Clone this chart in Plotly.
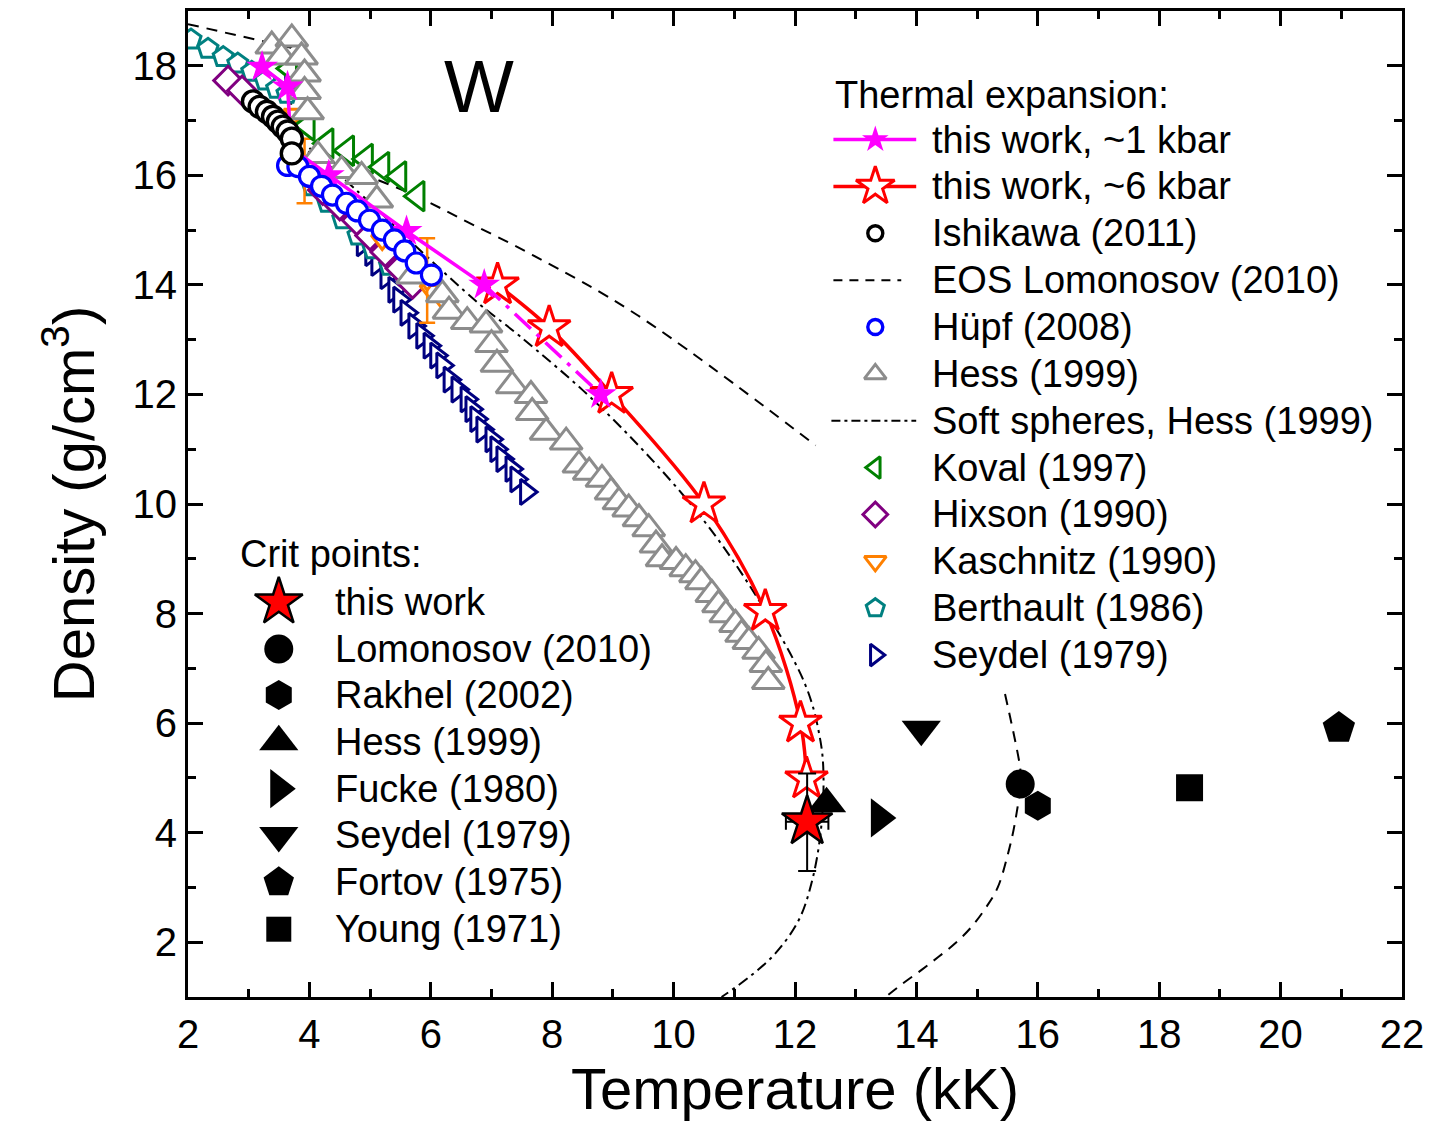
import plotly.graph_objects as go

FONT = "Arial, Liberation Sans, sans-serif"

# ---------------- data: temperature (kK) and density (g/cm^3) ----------------
# this work, thermal expansion at ~1 kbar
kbar1_T = [3.22, 3.64, 4.32, 5.60, 6.88, 8.80]
kbar1_rho = [17.98, 17.62, 16.00, 14.98, 14.00, 12.00]
kbar1_path_T = [3.22, 3.64, 3.70, 4.32, 5.60, 6.88]          # includes melting drop
kbar1_path_rho = [17.98, 17.62, 16.50, 16.00, 14.98, 14.00]
kbar1_ext_T = [6.88, 8.80]
kbar1_ext_rho = [14.00, 12.00]

# this work, thermal expansion at ~6 kbar
kbar6_T = [7.10, 7.95, 8.98, 10.50, 11.51, 12.09, 12.19]
kbar6_rho = [14.00, 13.22, 12.00, 10.00, 8.04, 6.00, 4.98]

# Ishikawa (2011)
ishikawa_T = [3.07, 3.18, 3.30, 3.40, 3.48, 3.56, 3.64, 3.71, 3.71]
ishikawa_rho = [17.35, 17.25, 17.16, 17.07, 16.98, 16.89, 16.80, 16.67, 16.40]

# EOS Lomonosov (2010): solid branch with melting drop, liquid branch, binodal near CP
eos_solid_T = [2.00, 3.70, 3.70]
eos_solid_rho = [18.76, 18.33, 16.60]
eos_liquid_T = [3.70, 4.00, 5.70, 6.60, 7.67, 9.40, 12.34]
eos_liquid_rho = [16.60, 16.42, 15.65, 15.15, 14.55, 13.45, 11.07]
eos_binodal_T = [15.46, 15.71, 15.72, 15.62, 15.51, 15.34, 15.15, 14.90, 14.64, 14.36, 14.08, 13.78, 13.49]
eos_binodal_rho = [6.53, 5.18, 4.95, 4.16, 3.62, 3.00, 2.64, 2.27, 1.98, 1.73, 1.49, 1.25, 1.00]

# Hüpf (2008)
hupf_T = [3.64, 3.81, 4.00, 4.20, 4.38, 4.61, 4.79, 4.99, 5.20, 5.40, 5.57, 5.76, 6.01]
hupf_rho = [16.18, 16.16, 15.98, 15.80, 15.64, 15.49, 15.35, 15.18, 15.00, 14.82, 14.62, 14.40, 14.18]

# Hess (1999)
hess_T = [3.38, 3.71, 3.54, 3.87, 3.92, 3.92, 3.97,
          4.14, 4.53, 4.86, 5.11, 5.70, 6.19, 6.30, 6.60, 6.91, 7.00, 7.09, 7.34, 7.65, 7.67,
          7.90, 8.23, 8.44, 8.61, 8.82, 8.97, 9.10, 9.26, 9.43, 9.59, 9.71, 9.81, 10.04, 10.20,
          10.36, 10.46, 10.63, 10.74, 10.86, 11.02, 11.12, 11.24, 11.40, 11.52, 11.56]
hess_rho = [18.36, 18.49, 18.16, 18.16, 17.85, 17.53, 17.16,
            16.36, 16.09, 15.98, 15.55, 14.16, 13.82, 13.52, 13.33, 13.27, 12.91, 12.55, 12.16, 11.98, 11.67,
            11.31, 11.13, 10.71, 10.58, 10.45, 10.22, 10.04, 9.91, 9.73, 9.55, 9.25, 9.00, 8.95, 8.82,
            8.71, 8.58, 8.35, 8.16, 7.98, 7.80, 7.62, 7.49, 7.31, 7.07, 6.76]

# Soft spheres, Hess (1999)
soft_T = [4.00, 5.00, 5.70, 6.80, 7.46, 8.77, 10.25, 11.24, 12.17, 12.42, 12.47, 12.42, 12.27, 12.06, 11.68, 11.24, 10.79]
soft_rho = [16.50, 15.50, 14.76, 13.65, 13.07, 11.80, 10.04, 8.53, 6.70, 5.67, 5.00, 3.98, 3.07, 2.40, 1.80, 1.36, 1.00]

# Koval (1997)
koval_T = [3.68, 3.97, 4.28, 4.62, 4.93, 5.20, 5.48, 5.78]
koval_rho = [17.95, 16.91, 16.58, 16.45, 16.30, 16.15, 15.98, 15.62]

# Hixson (1990)
hixson_T = [2.66, 2.89, 4.22, 4.50, 4.78, 5.00, 5.25, 5.50, 5.70]
hixson_rho = [17.73, 17.55, 15.73, 15.45, 15.18, 14.90, 14.60, 14.30, 14.02]

# Kaschnitz (1990)
kasch_T = [3.76, 5.20, 6.00, 6.25]
kasch_rho = [17.12, 14.82, 13.90, 13.65]
kasch_err_T = [3.92, 5.94]
kasch_err_rho = [16.08, 14.08]
kasch_err = [0.59, 0.77]

# Berthault (1986)
berth_T = [2.05, 2.33, 2.58, 2.82, 3.05, 3.27, 3.46, 3.63, 4.05, 4.30, 4.55, 4.80, 5.05, 5.32]
berth_rho = [18.48, 18.31, 18.16, 18.04, 17.89, 17.73, 17.58, 17.49, 15.80, 15.50, 15.20, 14.90, 14.65, 14.35]

# Seydel (1979)
seydel_T = [3.70, 4.88, 5.02, 5.12, 5.27, 5.40, 5.48, 5.60, 5.73, 5.86, 5.98, 6.09, 6.19, 6.31,
            6.44, 6.59, 6.67, 6.75, 6.85, 7.00, 7.08, 7.18, 7.33, 7.41, 7.57]
seydel_rho = [17.72, 14.76, 14.58, 14.40, 14.16, 13.91, 13.73, 13.49, 13.25, 13.07, 12.89, 12.71,
              12.53, 12.27, 12.09, 11.91, 11.73, 11.55, 11.36, 11.18, 11.00, 10.82, 10.64, 10.45, 10.22]

# critical points
cp_names = ["this work", "Lomonosov (2010)", "Rakhel (2002)", "Hess (1999)",
            "Fucke (1980)", "Seydel (1979)", "Fortov (1975)", "Young (1971)"]
cp_T = [12.20, 15.71, 16.00, 12.52, 13.39, 14.08, 20.96, 18.50]
cp_rho = [4.20, 4.89, 4.49, 4.53, 4.27, 5.89, 5.91, 4.82]
cp_err_T = 0.35
cp_err_rho_plus = 0.88
cp_err_rho_minus = 0.90

# ---------------- styling ----------------
MAGENTA, RED, BLUE, GRAY = "#FF00FF", "#FF0000", "#0000FF", "#8C8C8C"
GREEN, PURPLE, ORANGE, TEAL, NAVY = "#008000", "#800080", "#FF8000", "#008080", "#000080"
DASH = "11px,8px"
DASHDOT = "11px,5px,3px,5px"


def open_marker(symbol, color, size, lw=3):
    return dict(symbol=symbol, size=size, color="white", line=dict(color=color, width=lw))


fig = go.Figure()


def data_trace(x, y, **kw):
    fig.add_trace(go.Scatter(x=x, y=y, showlegend=False, hoverinfo="skip", cliponaxis=True, **kw))


# model curves
data_trace(eos_solid_T, eos_solid_rho, mode="lines", line=dict(color="black", width=2, dash=DASH))
data_trace(eos_liquid_T, eos_liquid_rho, mode="lines",
           line=dict(color="black", width=2, dash=DASH, shape="spline"))
data_trace(eos_binodal_T, eos_binodal_rho, mode="lines",
           line=dict(color="black", width=2, dash=DASH, shape="spline"))
data_trace(soft_T, soft_rho, mode="lines",
           line=dict(color="black", width=2, dash=DASHDOT, shape="spline"))

# experimental data sets
data_trace(seydel_T, seydel_rho, mode="markers", marker=open_marker("triangle-right", NAVY, 22))
data_trace(berth_T, berth_rho, mode="markers", marker=open_marker("pentagon", TEAL, 21))
data_trace(hixson_T, hixson_rho, mode="markers", marker=open_marker("diamond", PURPLE, 22))
data_trace(kasch_T, kasch_rho, mode="markers", marker=open_marker("triangle-down", ORANGE, 19))
data_trace(kasch_err_T, kasch_err_rho, mode="markers", marker=open_marker("triangle-down", ORANGE, 19),
           error_y=dict(type="data", array=kasch_err, color=ORANGE, thickness=2.5, width=8))
data_trace(koval_T, koval_rho, mode="markers", marker=open_marker("triangle-left", GREEN, 26))
data_trace(hess_T, hess_rho, mode="markers", marker=open_marker("triangle-up", GRAY, 28))

# this work
data_trace(kbar6_T, kbar6_rho, mode="lines+markers",
           line=dict(color=RED, width=3.5, shape="spline"),
           marker=open_marker("star", RED, 32, 3))
data_trace(kbar1_ext_T, kbar1_ext_rho, mode="lines",
           line=dict(color=MAGENTA, width=3.5, dash="22px,8px,4px,8px"))
data_trace(kbar1_path_T, kbar1_path_rho, mode="lines", line=dict(color=MAGENTA, width=3.5))
data_trace(kbar1_T, kbar1_rho, mode="markers",
           marker=dict(symbol="star", size=24, color=MAGENTA, line=dict(width=0)))

data_trace(hupf_T, hupf_rho, mode="markers", marker=open_marker("circle", BLUE, 20, 3.2))
data_trace(ishikawa_T, ishikawa_rho, mode="markers", marker=open_marker("circle", "black", 21, 3.4))

# critical points
cp_symbols = ["star", "circle", "hexagon", "triangle-up", "triangle-right",
              "triangle-down", "pentagon", "square"]
cp_sizes = [38, 29, 30, 34, 34, 34, 34, 27]
for i in range(len(cp_T) - 1, 0, -1):
    data_trace([cp_T[i]], [cp_rho[i]], mode="markers",
               marker=dict(symbol=cp_symbols[i], size=cp_sizes[i], color="black", line=dict(width=0)))
data_trace([cp_T[0]], [cp_rho[0]], mode="markers",
           marker=dict(symbol="star", size=cp_sizes[0], color=RED, line=dict(color="black", width=2.5)),
           error_x=dict(type="data", array=[cp_err_T], color="black", thickness=2, width=8),
           error_y=dict(type="data", array=[cp_err_rho_plus], arrayminus=[cp_err_rho_minus],
                        color="black", thickness=2, width=9))

# ---------------- legend blocks (drawn in a pixel frame over the plot area) ----------------
annotations = []


def key(x, y, **kw):
    fig.add_trace(go.Scatter(x=x, y=y, xaxis="x2", yaxis="y2", showlegend=False,
                             hoverinfo="skip", cliponaxis=False, **kw))


def label(x, y, text, size=38):
    annotations.append(dict(x=x, y=y, xref="x2", yref="y2", text=text, showarrow=False,
                            xanchor="left", yanchor="middle",
                            font=dict(family=FONT, size=size, color="black")))


right_rows = [137, 184, 231, 278, 325, 372, 419, 466, 513, 560, 607, 654]
right_labels = ["this work, ~1 kbar", "this work, ~6 kbar", "Ishikawa (2011)",
                "EOS Lomonosov (2010)", "Hüpf (2008)", "Hess (1999)",
                "Soft spheres, Hess (1999)", "Koval (1997)", "Hixson (1990)",
                "Kaschnitz (1990)", "Berthault (1986)", "Seydel (1979)"]
kx, tx = 877, 932
label(835, 92, "Thermal expansion:")
for yy, txt in zip(right_rows, right_labels):
    label(tx, yy, txt)

key([835, 918], [right_rows[0]] * 2, mode="lines", line=dict(color=MAGENTA, width=3.5))
key([kx], [right_rows[0]], mode="markers", marker=dict(symbol="star", size=20, color=MAGENTA))
key([835, 918], [right_rows[1]] * 2, mode="lines", line=dict(color=RED, width=3.5))
key([kx], [right_rows[1]], mode="markers", marker=open_marker("star", RED, 29, 3))
key([kx], [right_rows[2]], mode="markers", marker=open_marker("circle", "black", 15, 3.4))
key([835, 903], [right_rows[3]] * 2, mode="lines", line=dict(color="black", width=2, dash="9px,7px"))
key([kx], [right_rows[4]], mode="markers", marker=open_marker("circle", BLUE, 15, 3.4))
key([kx], [right_rows[5]], mode="markers", marker=open_marker("triangle-up", GRAY, 19, 3))
key([833, 918], [right_rows[6]] * 2, mode="lines", line=dict(color="black", width=2, dash="9px,4px,3px,4px"))
key([kx], [right_rows[7]], mode="markers", marker=open_marker("triangle-left", GREEN, 19, 3))
key([kx], [right_rows[8]], mode="markers", marker=open_marker("diamond", PURPLE, 19, 3))
key([kx], [right_rows[9]], mode="markers", marker=open_marker("triangle-down", ORANGE, 19, 3))
key([kx], [right_rows[10]], mode="markers", marker=open_marker("pentagon", TEAL, 19, 3))
key([kx], [right_rows[11]], mode="markers", marker=open_marker("triangle-right", NAVY, 19, 3))

left_rows = [601, 648, 694, 741, 788, 835, 882, 929]
left_sizes = [36, 29, 30, 34, 34, 34, 32, 25]
label(238, 553, "Crit points:")
for i, (yy, txt) in enumerate(zip(left_rows, cp_names)):
    label(333, yy, txt)
    if i == 0:
        key([279], [yy], mode="markers",
            marker=dict(symbol="star", size=left_sizes[0], color=RED, line=dict(color="black", width=2.5)))
    else:
        key([279], [yy], mode="markers",
            marker=dict(symbol=cp_symbols[i], size=left_sizes[i], color="black"))

# element label
annotations.append(dict(x=480, y=84, xref="x2", yref="y2", text="W", showarrow=False,
                        xanchor="center", yanchor="middle",
                        font=dict(family=FONT, size=74, color="black")))

# ---------------- axes ----------------
axis_common = dict(showline=True, linewidth=3, linecolor="black", mirror="allticks",
                   ticks="inside", ticklen=15, tickwidth=3, tickcolor="black",
                   showgrid=False, zeroline=False,
                   tickfont=dict(family=FONT, size=40, color="black"))

fig.update_layout(
    width=1432, height=1133,
    margin=dict(l=188, r=27, t=8, b=136),
    paper_bgcolor="white", plot_bgcolor="white",
    showlegend=False,
    font=dict(family=FONT, color="black"),
    xaxis=dict(range=[2, 22], tick0=2, dtick=2, **axis_common,
               minor=dict(ticks="inside", ticklen=8, tickwidth=3, tickcolor="black", dtick=1,
                          showgrid=False),
               title=dict(text="Temperature (kK)", font=dict(family=FONT, size=58), standoff=14)),
    yaxis=dict(range=[1, 19], tickmode="array", tickvals=[2, 4, 6, 8, 10, 12, 14, 16, 18],
               **axis_common,
               minor=dict(ticks="inside", ticklen=8, tickwidth=3, tickcolor="black",
                          tickvals=[1, 3, 5, 7, 9, 11, 13, 15, 17, 19], showgrid=False),
               title=dict(text="Density (g/cm<sup>3</sup>)", font=dict(family=FONT, size=58), standoff=20)),
    xaxis2=dict(overlaying="x", range=[188, 1405], visible=False, fixedrange=True),
    yaxis2=dict(overlaying="y", range=[997, 8], visible=False, fixedrange=True),
    annotations=annotations,
)

fig.write_html("out.html")
